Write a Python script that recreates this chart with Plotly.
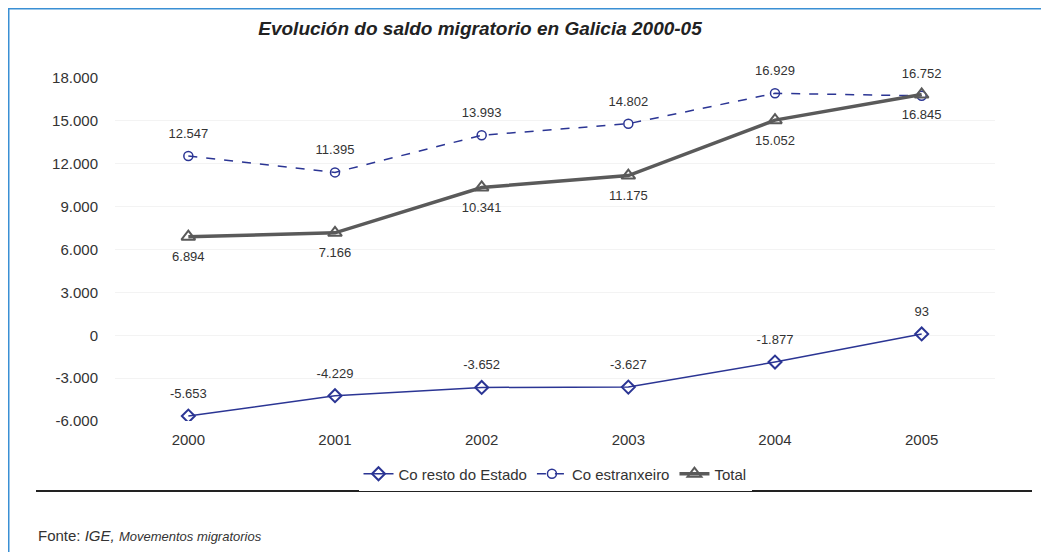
import plotly.graph_objects as go

years = ["2000", "2001", "2002", "2003", "2004", "2005"]
resto = [-5653, -4229, -3652, -3627, -1877, 93]
estranxeiro = [12547, 11395, 13993, 14802, 16929, 16752]
total = [6894, 7166, 10341, 11175, 15052, 16845]
ytick_vals = [-6000, -3000, 0, 3000, 6000, 9000, 12000, 15000, 18000]
ytick_text = ["-6.000", "-3.000", "0", "3.000", "6.000", "9.000", "12.000", "15.000", "18.000"]


def fmt(v):
    s = f"{abs(v):,}".replace(",", ".")
    return ("-" if v < 0 else "") + s


# the page body adds an 8px offset; figure coordinates = screen coordinates - 8
OFF = 8
W, H = 1049 - OFF, 552 - OFF
L, T = 115 - OFF, 78 - OFF
PR, PB = 995 - OFF, 421 - OFF
R, B = W - PR, H - PB
PW, PH = PR - L, PB - T


def px(x):
    return (x - OFF - L) / PW


def py(y):
    return (PB - (y - OFF)) / PH


BLUE = "#2B3594"
GRAY = "#5A5A5A"
LBL = dict(size=13, color="#333333")

fig = go.Figure()
fig.add_trace(go.Scatter(
    x=years, y=resto, name="Co resto do Estado", mode="lines+markers",
    line=dict(color=BLUE, width=1.5),
    marker=dict(symbol="diamond-open", size=10, color=BLUE, line=dict(width=2)),
))
fig.add_trace(go.Scatter(
    x=years, y=estranxeiro, name="Co estranxeiro", mode="lines+markers",
    line=dict(color=BLUE, width=1.5, dash="dash"),
    marker=dict(symbol="circle-open", size=9, color=BLUE, line=dict(width=1.5)),
))
fig.add_trace(go.Scatter(
    x=years, y=total, name="Total", mode="lines+markers",
    line=dict(color=GRAY, width=3.5),
    marker=dict(symbol="triangle-up-open", size=12, color=GRAY, line=dict(width=2)),
))
# data labels (invisible large markers give the label offset)
for vals, pos in ((resto, "top center"), (estranxeiro, "top center"), (total, "bottom center")):
    fig.add_trace(go.Scatter(
        x=years, y=vals, mode="markers+text", showlegend=False, cliponaxis=False,
        marker=dict(size=22, opacity=0),
        text=[fmt(v) for v in vals], textposition=pos, textfont=LBL,
    ))

fig.update_layout(
    width=W, height=H,
    margin=dict(l=L, r=R, t=T, b=B),
    paper_bgcolor="white", plot_bgcolor="white",
    font=dict(family="Liberation Sans, Arial, sans-serif", size=15, color="#333333"),
    title=dict(text="<b><i>Evolución do saldo migratorio en Galicia 2000-05</i></b>",
               x=(480 - OFF) / W, xanchor="center", y=1 - (28 - OFF) / H, yanchor="middle",
               font=dict(size=19, color="#222222")),
    showlegend=True,
    legend=dict(orientation="h", x=0.5, xanchor="center", y=py(474), yanchor="middle",
                font=dict(size=15, color="#333333")),
    hovermode=False,
    xaxis=dict(type="category", range=[-0.5, 5.5], showgrid=False, showline=False,
               zeroline=False, ticks="", tickfont=dict(size=15), ticklabelstandoff=8),
    yaxis=dict(range=[-6000, 18000], tickvals=ytick_vals, ticktext=ytick_text,
               showgrid=True, gridcolor="#f3f3f3", zeroline=False, showline=False,
               ticks="", tickfont=dict(size=15), ticklabelstandoff=16),
    shapes=[
        dict(type="line", xref="paper", yref="paper", x0=px(7), x1=px(1049), y0=py(8.5), y1=py(8.5),
             line=dict(color="#3A8FD4", width=2)),
        dict(type="line", xref="paper", yref="paper", x0=px(8.5), x1=px(8.5), y0=py(7), y1=py(552),
             line=dict(color="#3A8FD4", width=2)),
        dict(type="line", xref="paper", yref="paper", x0=px(36), x1=px(1032), y0=py(491), y1=py(491),
             line=dict(color="#222222", width=2)),
    ],
    annotations=[
        dict(text="Fonte: <i>IGE,</i> <i><span style='font-size:13px'>Movementos migratorios</span></i>",
             xref="paper", yref="paper", x=px(36), y=py(535), xanchor="left", yanchor="middle",
             showarrow=False, font=dict(size=15, color="#333333")),
    ],
)

fig.write_html("out.html")
